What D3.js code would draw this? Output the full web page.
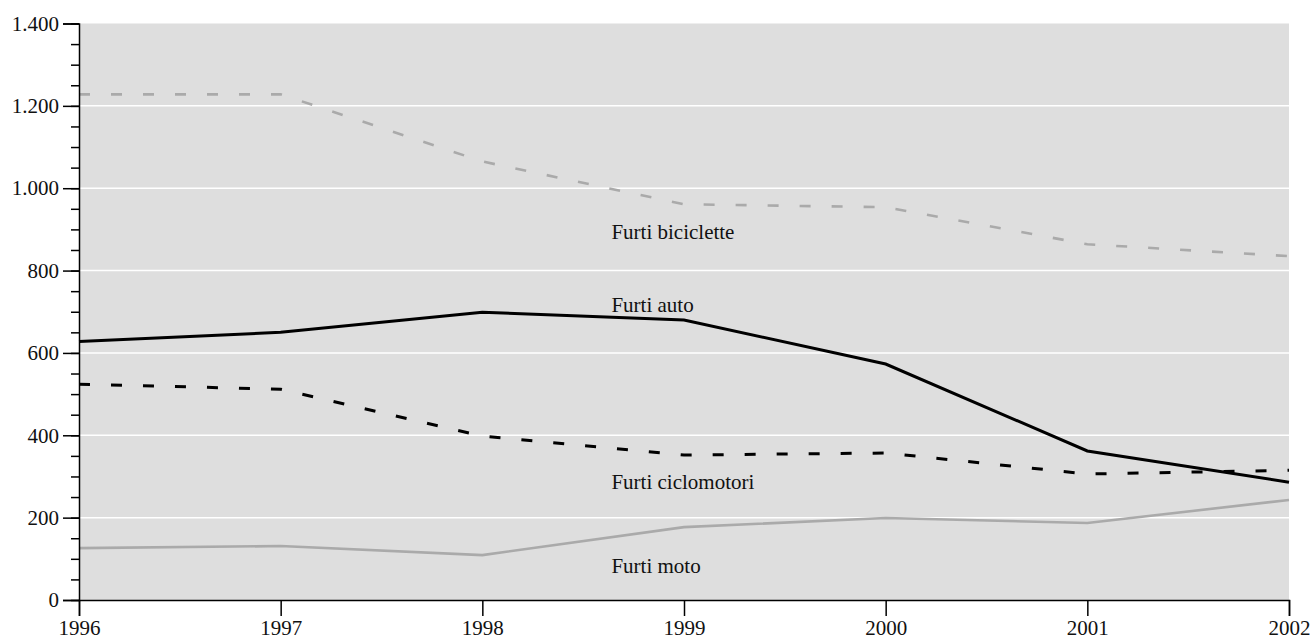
<!DOCTYPE html>
<html>
<head>
<meta charset="utf-8">
<script src="https://cdn.jsdelivr.net/npm/d3@7"></script>
<style>
  body { margin: 0; background: #fff; }
  text { font-family: "Liberation Serif", "Times New Roman", serif; fill: #111; }
</style>
</head>
<body>
<div id="chart"></div>
<script>
// data
const years = [1996, 1997, 1998, 1999, 2000, 2001, 2002];
const furtiBiciclette = [1228, 1228, 1065, 961, 954, 864, 835];
const furtiAuto = [628, 650, 699, 680, 573, 362, 286];
const furtiCiclomotori = [524, 512, 398, 352, 357, 306, 315];
const furtiMoto = [126, 131, 109, 177, 199, 187, 243];
const seriesNames = ["Furti biciclette", "Furti auto", "Furti ciclomotori", "Furti moto"];
const yTickValues = [0, 200, 400, 600, 800, 1000, 1200, 1400];
// where the annotation texts sit, in data units (year, value)
const labelYear = 1998.64;
const labelValues = [876, 699, 269, 66];

let series = [
    {name: seriesNames[0], values: furtiBiciclette, color: "#aaaaaa", width: 2.6, dash: "11,21"},
    {name: seriesNames[1], values: furtiAuto, color: "#000000", width: 3, dash: null},
    {name: seriesNames[2], values: furtiCiclomotori, color: "#000000", width: 3, dash: "11,21"},
    {name: seriesNames[3], values: furtiMoto, color: "#aaaaaa", width: 2.6, dash: null}
];

let margin = {top: 23.5, right: 24, bottom: 44, left: 79};
let width = 1313 - margin.left - margin.right;
let height = 644 - margin.top - margin.bottom;
let fontSize = "21px";

let svg = d3.select("#chart").append("svg")
    .attr("width", 1313)
    .attr("height", 644)
    .append("g")
    .attr("transform", "translate(" + margin.left + "," + margin.top + ")");

let x = d3.scaleLinear().domain([1996, 2002]).range([0, width]);
let y = d3.scaleLinear().domain([0, 1400]).range([height, 0]);

// grey plot background
svg.append("rect")
    .attr("width", width)
    .attr("height", height)
    .attr("fill", "#dedede");

// white gridlines
svg.append("g")
    .selectAll("line")
    .data(yTickValues.slice(1, -1))
    .enter().append("line")
    .attr("x1", 0).attr("x2", width)
    .attr("y1", d => y(d)).attr("y2", d => y(d))
    .attr("stroke", "#fff")
    .attr("stroke-width", 1.5);

// lines
let line = d3.line()
    .x((d, i) => x(years[i]))
    .y(d => y(d));

svg.append("g")
    .selectAll("path")
    .data(series)
    .enter().append("path")
    .attr("d", d => line(d.values))
    .attr("fill", "none")
    .attr("stroke", d => d.color)
    .attr("stroke-width", d => d.width)
    .attr("stroke-dasharray", d => d.dash);

// series labels
svg.append("g")
    .selectAll("text")
    .data(series)
    .enter().append("text")
    .attr("x", x(labelYear))
    .attr("y", (d, i) => y(labelValues[i]))
    .attr("font-size", fontSize)
    .text(d => d.name);

// y axis, major + minor ticks
let yMinor = svg.append("g")
    .call(d3.axisLeft(y).tickValues(d3.range(0, 1401, 50)).tickSize(8).tickFormat(""));
yMinor.select(".domain").remove();
yMinor.selectAll("line").attr("stroke", "#000").attr("stroke-width", 1.5);

let fmt = d3.formatLocale({decimal: ",", thousands: ".", grouping: [3], currency: ["", "€"]}).format(",d");
let yAxis = svg.append("g")
    .call(d3.axisLeft(y).tickValues(yTickValues).tickSize(16).tickPadding(4).tickFormat(fmt));
yAxis.selectAll("line").attr("stroke", "#000").attr("stroke-width", 1.5);
yAxis.select(".domain").attr("stroke", "#000").attr("stroke-width", 1.5);
yAxis.selectAll("text")
    .attr("font-size", fontSize)
    .attr("font-family", "Liberation Serif, serif")
    .attr("fill", "#111");

// x axis
let xAxis = svg.append("g")
    .attr("transform", "translate(0," + height + ")")
    .call(d3.axisBottom(x).tickValues(years).tickSize(16).tickPadding(4).tickFormat(d3.format("d")));
xAxis.selectAll("line").attr("stroke", "#000").attr("stroke-width", 1.5);
xAxis.select(".domain").attr("stroke", "#000").attr("stroke-width", 1.5);
xAxis.selectAll("text")
    .attr("font-size", fontSize)
    .attr("font-family", "Liberation Serif, serif")
    .attr("fill", "#111");
</script>
</body>
</html>
